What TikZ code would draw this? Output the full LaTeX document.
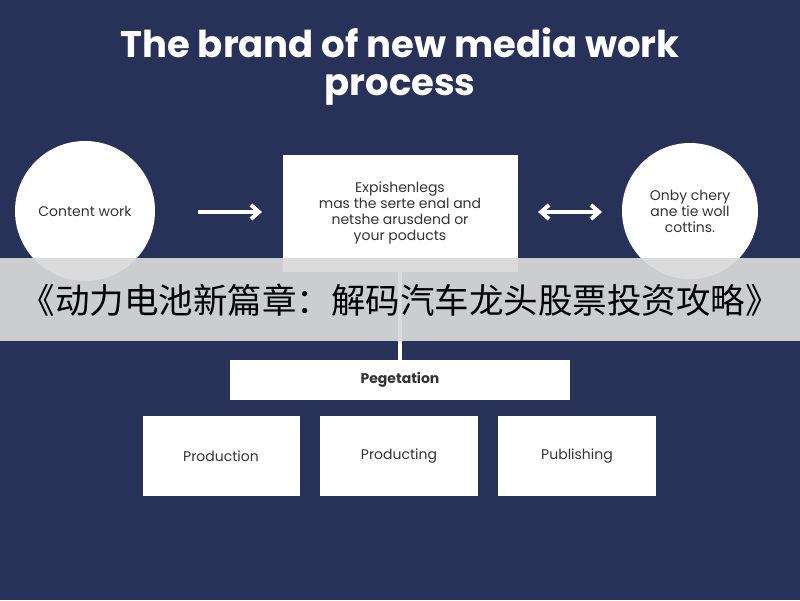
\documentclass[tikz,border=0pt]{standalone}
\usetikzlibrary{arrows.meta}
\usepackage{fontspec}
\setmainfont{Poppins}
\newfontfamily\cjk{Noto Sans CJK SC}
\begin{document}
\begin{tikzpicture}[x=1pt,y=-1pt,
  box/.style={draw=none,fill=white,text=black!80,font=\fontsize{14}{17}\selectfont},
  circ/.style={circle,fill=white,text=black!80,font=\fontsize{14}{16}\selectfont,align=center},
  conn/.style={white,line width=4pt},
  tip/.style={Straight Barb[length=8pt,width=14pt]}]
\fill[fill={rgb,255:red,40;green,50;blue,88}] (0,0) rectangle (800,600);
\useasboundingbox (0,0) rectangle (800,600);
\node[text=white,font=\bfseries\fontsize{37}{38}\selectfont,align=center] (title) at (400,67) {The brand of new media work\\process};
\node[circ,minimum size=140] (c1) at (85,211) {Content work};
\node[circ,minimum size=136] (c2) at (690,211) {Onby chery\\ane tie woll\\cottins.};
\node[box,minimum width=235,minimum height=117,align=center,font=\fontsize{14}{16}\selectfont] (m) at (400,213) {Expishenlegs\\mas the serte enal and\\netshe arusdend or\\your poducts};
\coordinate (a1s) at (198,212); \coordinate (a1e) at (262,212);
\draw[conn,-{Straight Barb[length=8pt,width=14pt]}] (a1s) -- (a1e);
\coordinate (a2s) at (538,212); \coordinate (a2e) at (602,212);
\draw[conn,{Straight Barb[length=8pt,width=14pt]}-{Straight Barb[length=8pt,width=14pt]}] (a2s) -- (a2e);
\node[box,minimum width=340,minimum height=40,font=\bfseries\fontsize{14}{17}\selectfont] (p) at (400,380) {Pegetation};
\draw[conn] (m.south) -- (p.north);
\node[box,minimum width=157,minimum height=80] (b1) at (221,456) {Production};
\node[box,minimum width=158,minimum height=80] (b2) at (399,456) {Producting};
\node[box,minimum width=158,minimum height=80] (b3) at (577,456) {Publishing};
\fill[white!85!black,opacity=0.93] (0,258) rectangle (800,341);
\node[font=\cjk\fontsize{34.5}{36}\selectfont,text=black] (ban) at (400,300) {《动力电池新篇章：解码汽车龙头股票投资攻略》};
\end{tikzpicture}
\end{document}
